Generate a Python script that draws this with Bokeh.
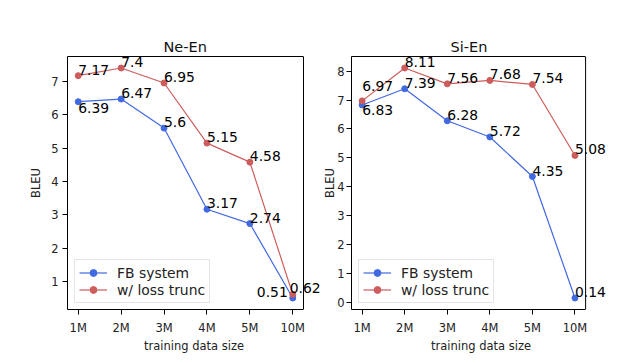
from bokeh.plotting import figure
from bokeh.layouts import row
from bokeh.models import (ColumnDataSource, LabelSet, Range1d, FixedTicker,
                          Legend, LegendItem, LinearAxis, Span)
from bokeh.core.properties import value
from bokeh.embed import file_html
from bokeh.resources import INLINE

# ---- data ----
sizes = ["1M", "2M", "3M", "4M", "5M", "10M"]
series_names = ["FB system", "w/ loss trunc"]
ne_fb = [6.39, 6.47, 5.6, 3.17, 2.74, 0.51]
ne_trunc = [7.17, 7.4, 6.95, 5.15, 4.58, 0.62]
si_fb = [6.83, 7.39, 6.28, 5.72, 4.35, 0.14]
si_trunc = [6.97, 8.11, 7.56, 7.68, 7.54, 5.08]
ne_yticks = [1, 2, 3, 4, 5, 6, 7]
si_yticks = [0, 1, 2, 3, 4, 5, 6, 7, 8]

FONT = "DejaVu Sans"
BLUE = "#4169E1"
RED = "#CD5C5C"


def yrange(a, b):
    lo = min(min(a), min(b))
    hi = max(max(a), max(b))
    m = (hi - lo) * 0.05
    return Range1d(lo - m, hi + m)


def style_axis(ax, lab_stand, ax_stand):
    ax.axis_line_color = "black"
    ax.major_tick_line_color = "black"
    ax.major_tick_out = 5
    ax.major_tick_in = 0
    ax.minor_tick_line_color = None
    ax.major_label_text_font = FONT
    ax.major_label_text_font_size = "11.5px"
    ax.major_label_text_color = "#222222"
    ax.axis_label_text_font = FONT
    ax.axis_label_text_font_size = "11.5px"
    ax.axis_label_text_font_style = "normal"
    ax.axis_label_text_color = "#222222"
    ax.major_label_standoff = lab_stand
    ax.axis_label_standoff = ax_stand


def panel(title, fb, trunc, yticks, width, bl, box_w, extra, title_off,
          nudges, lab_stand, ax_stand):
    x = list(range(len(sizes)))
    x_lo, x_hi = -0.25, len(sizes) - 0.75
    px_per_unit = box_w / (x_hi - x_lo)
    # frame extended to the right so value labels may overflow the box
    x_end = x_hi + extra / px_per_unit
    br = width - bl - box_w - extra
    p = figure(width=width, height=355, output_backend="svg",
               toolbar_location=None, title=title,
               x_range=Range1d(x_lo, x_end),
               y_range=yrange(fb, trunc),
               min_border_left=bl, min_border_right=br,
               min_border_top=56, min_border_bottom=42)
    p.title.align = "left"
    p.title.offset = title_off
    p.title.text_font = FONT
    p.title.text_font_size = "14.5px"
    p.title.text_font_style = "normal"
    p.title.text_color = "#111111"
    p.title.standoff = 4
    p.outline_line_color = None
    p.xgrid.visible = False
    p.ygrid.visible = False
    p.background_fill_color = "white"
    p.border_fill_color = "white"

    top = LinearAxis(ticker=FixedTicker(ticks=[]), bounds=(x_lo, x_hi),
                     axis_line_color="black", major_tick_line_color=None,
                     minor_tick_line_color=None)
    p.add_layout(top, "above")
    p.add_layout(Span(location=x_hi, dimension="height", line_color="black",
                      line_width=1))

    xa = p.below[0]
    style_axis(xa, 6, 1)
    xa.bounds = (x_lo, x_hi)
    xa.ticker = FixedTicker(ticks=x)
    xa.major_label_overrides = {i: s for i, s in enumerate(sizes)}
    xa.axis_label = "training data size"
    ya = p.left[0]
    style_axis(ya, lab_stand, ax_stand)
    ya.ticker = FixedTicker(ticks=yticks)
    ya.axis_label = "BLEU"

    items = []
    for vals, col, name, key in ((fb, BLUE, series_names[0], "fb"),
                                 (trunc, RED, series_names[1], "lt")):
        src = ColumnDataSource(dict(x=x, y=vals))
        ln = p.line("x", "y", source=src, line_color=col, line_width=1.2)
        sc = p.scatter("x", "y", source=src, size=6, fill_color=col,
                       line_color=col)
        items.append(LegendItem(label=name, renderers=[ln, sc]))
        xo, yo, al = [], [], []
        for i in range(len(vals)):
            n = nudges.get((key, i), (0, 1, "left"))
            xo.append(n[0]); yo.append(n[1]); al.append(n[2])
        lsrc = ColumnDataSource(dict(x=x, y=vals, t=[str(v) for v in vals],
                                     xo=xo, yo=yo, al=al))
        p.add_layout(LabelSet(x="x", y="y", text="t", source=lsrc,
                              x_offset="xo", y_offset="yo", text_align="al",
                              text_baseline="alphabetic",
                              text_font=value(FONT),
                              text_font_size=value("13.9px"),
                              text_color="black"))

    leg = Legend(items=items, location=(7, 6))
    leg.label_text_font = FONT
    leg.label_text_font_size = "13.9px"
    leg.label_text_color = "#222222"
    leg.glyph_width = 28
    leg.glyph_height = 17
    leg.label_standoff = 10
    leg.padding = 4
    leg.spacing = 0
    leg.margin = 0
    leg.border_line_color = "#cccccc"
    leg.border_line_width = 1
    leg.background_fill_alpha = 0.8
    leg.label_height = 17
    p.add_layout(leg, "center")
    return p


left = panel("Ne-En", ne_fb, ne_trunc, ne_yticks, 320, 67, 236, 17, 96,
             {("fb", 0): (0, -11, "left"), ("fb", 5): (-5, 1, "right"),
              ("lt", 5): (-3, 1, "left")}, 4, 5)
right = panel("Si-En", si_fb, si_trunc, si_yticks, 298, 30, 235, 25, 99,
              {("lt", 0): (0, 10, "left"), ("fb", 0): (0, -10, "left")},
              2, -3)

layout = row(left, right)
open("out.html", "w").write(file_html(layout, INLINE))
